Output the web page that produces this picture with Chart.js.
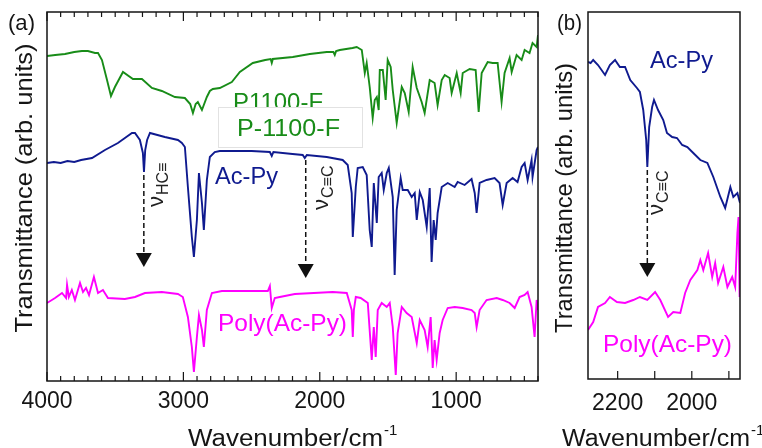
<!DOCTYPE html>
<html><head><meta charset="utf-8">
<script src="https://cdn.jsdelivr.net/npm/chart.js@4/dist/chart.umd.min.js"></script>
<style>
html,body{margin:0;padding:0;background:#fff;}
#wrap{position:relative;width:762px;height:448px;overflow:hidden;}
canvas{position:absolute;left:0;top:0;}
</style></head><body>
<div id="wrap"><canvas id="ca" width="762" height="448"></canvas><canvas id="cb" width="762" height="448"></canvas></div>
<script>
// ---- data: [wavenumber (cm^-1), transmittance (arb. units)] ----
const p1100F = [[4000,325],[3940,326],[3868,327],[3800,329],[3744,330],[3700,330],[3648,328],[3626,328],[3597,321],[3560,301],[3531,285],[3502,294],[3443,309],[3370,302],[3304,302],[3231,293],[3158,290],[3062,284],[2989,283],[2950,277],[2930,268],[2910,277],[2894,279],[2864,271],[2828,284],[2806,290],[2784,292],[2733,293],[2645,299],[2586,309],[2491,318],[2400,321],[2360,322],[2352,318],[2344,322],[2198,324],[2073,327],[1949,329],[1900,329],[1890,326],[1880,330],[1853,331],[1760,333],[1729,334],[1692,331],[1670,308],[1656,318],[1634,294],[1612,263],[1597,281],[1582,284],[1568,271],[1560,311],[1538,311],[1517,281],[1502,321],[1480,314],[1465,291],[1436,258],[1399,294],[1377,288],[1348,269],[1319,314],[1289,293],[1253,279],[1231,268],[1194,301],[1158,298],[1136,276],[1106,301],[1084,306],[1048,303],[1033,288],[996,308],[967,288],[952,308],[901,312],[857,311],[835,269],[813,308],[769,319],[733,318],[696,318],[667,279],[645,308],[608,323],[593,309],[557,326],[520,321],[498,331],[462,328],[440,338],[410,334],[400,346]];
const acPy = [[4000,218],[3950,219],[3900,218],[3850,220],[3800,219],[3750,221],[3670,223],[3575,231],[3480,238],[3377,248],[3355,248],[3319,241],[3297,228],[3289,209],[3280,231],[3266,241],[3245,248],[3136,244],[3040,241],[3011,238],[2989,234],[2967,194],[2938,144],[2923,124],[2901,161],[2886,208],[2864,178],[2850,151],[2828,201],[2806,224],[2770,229],[2733,230],[2500,230],[2366,229],[2352,225],[2340,229],[2200,227],[2125,226],[2110,223],[2095,226],[1949,224],[1832,221],[1795,216],[1766,188],[1758,144],[1736,194],[1722,213],[1685,214],[1656,206],[1634,151],[1619,134],[1604,198],[1582,158],[1568,204],[1546,208],[1531,191],[1509,208],[1494,213],[1465,184],[1451,106],[1436,171],[1407,203],[1392,191],[1355,191],[1326,184],[1304,188],[1289,161],[1267,189],[1245,181],[1216,154],[1194,193],[1180,119],[1165,161],[1150,141],[1136,168],[1106,194],[1062,198],[1011,194],[989,199],[938,196],[887,202],[864,188],[850,168],[828,198],[777,201],[718,203],[682,198],[659,176],[630,198],[586,203],[550,199],[520,214],[498,218],[476,201],[447,221],[440,204],[410,231],[400,234]];
const polyAcPy = [[4000,78],[3941,83],[3890,88],[3860,83],[3853,96],[3840,84],[3818,91],[3795,81],[3758,98],[3736,89],[3714,93],[3692,86],[3670,97],[3656,104],[3626,88],[3590,91],[3553,83],[3429,82],[3355,84],[3282,88],[3158,89],[3040,87],[3004,84],[2967,64],[2938,34],[2923,9],[2901,44],[2886,66],[2864,51],[2850,34],[2828,71],[2791,88],[2718,90],[2549,90],[2381,90],[2366,95],[2352,73],[2330,83],[2293,84],[2183,87],[1905,89],[1802,88],[1766,71],[1758,44],[1750,71],[1736,84],[1700,83],[1648,78],[1619,21],[1604,54],[1590,24],[1575,71],[1546,78],[1509,74],[1487,78],[1465,54],[1443,6],[1429,48],[1399,74],[1363,68],[1326,64],[1289,38],[1267,61],[1231,51],[1209,34],[1187,64],[1172,13],[1158,41],[1143,21],[1121,48],[1099,61],[1062,73],[1011,74],[952,73],[887,71],[864,68],[850,54],[828,71],[777,81],[703,83],[659,81],[608,78],[571,73],[535,84],[498,86],[476,89],[447,74],[425,44],[410,81],[400,71]];
const acPyZoom = [[2280,317],[2273,316],[2266,319],[2253,314],[2234,304],[2221,314],[2207,319],[2194,312],[2180,312],[2166,299],[2148,291],[2140,287],[2131,269],[2123,239],[2120,212],[2115,252],[2107,272],[2102,279],[2091,269],[2077,259],[2067,246],[2053,242],[2040,241],[2026,234],[2012,232],[1996,226],[1977,219],[1958,216],[1942,202],[1923,182],[1910,171],[1896,192],[1888,182],[1877,186],[1870,176]];
const polyAcPyZoom = [[2280,49],[2266,57],[2253,72],[2234,76],[2221,82],[2202,77],[2180,76],[2158,79],[2140,82],[2120,79],[2099,87],[2085,79],[2064,62],[2050,67],[2031,66],[2018,86],[2004,99],[1985,109],[1977,119],[1969,109],[1956,126],[1945,102],[1937,116],[1929,96],[1915,112],[1904,92],[1891,102],[1883,92],[1877,146],[1874,162],[1871,82]];
// ---- ticks ----
const xTicksA = [4000,3900,3800,3700,3600,3500,3400,3300,3200,3100,3000,2900,2800,2700,2600,2500,2400,2300,2200,2100,2000,1900,1800,1700,1600,1500,1400,1300,1200,1100,1000,900,800,700,600,500,400];
const xLabelValuesA = [4000,3000,2000,1000];
const xTicksB = [2200,2100,2000,1900];
const xLabelValuesB = [2200,2000];
const xLabelsB = ['2200','2000'];

const GREEN='#188c18', BLUE='#0f1a8f', MAG='#ff00ff', INK='#151515';
const FONT='"Liberation Sans", Arial, sans-serif';

function txt(ctx, s, x, y, size, color, w, opt) {
  opt = opt || {};
  ctx.save();
  ctx.font = size + 'px ' + FONT;
  ctx.fillStyle = color;
  ctx.textBaseline = opt.baseline || 'alphabetic';
  ctx.textAlign = opt.align || 'left';
  const m = ctx.measureText(s).width;
  ctx.translate(x, y);
  if (opt.rot) ctx.rotate(opt.rot);
  if (w) ctx.scale(w / m, 1);
  ctx.fillText(s, 0, 0);
  ctx.restore();
}
function nuLabel(ctx, x, y, sub) {
  ctx.save();
  ctx.translate(x, y);
  ctx.rotate(-Math.PI / 2);
  ctx.fillStyle = '#222';
  ctx.textBaseline = 'alphabetic';
  ctx.font = '22px ' + FONT;
  ctx.fillText('\u03BD', 0, 0);
  const w = ctx.measureText('\u03BD').width;
  ctx.font = '16px ' + FONT;
  ctx.fillText(sub, w + 1, 5);
  ctx.restore();
}
function arrow(ctx, xs, ys, wn, v0, v1) {
  const x = xs.getPixelForValue(wn), y0 = ys.getPixelForValue(v0), y1 = ys.getPixelForValue(v1);
  ctx.save();
  ctx.strokeStyle = '#111'; ctx.fillStyle = '#111'; ctx.lineWidth = 1.5;
  ctx.setLineDash([5, 3]);
  ctx.beginPath(); ctx.moveTo(x, y0); ctx.lineTo(x, y1 - 14); ctx.stroke();
  ctx.setLineDash([]);
  ctx.beginPath(); ctx.moveTo(x - 8, y1 - 14); ctx.lineTo(x + 8, y1 - 14); ctx.lineTo(x, y1); ctx.closePath(); ctx.fill();
  ctx.restore();
}
function frameAndTicks(ctx, a, xs, ticks, majors, top, lenMaj, lenMin) {
  ctx.save();
  ctx.strokeStyle = INK; ctx.lineWidth = 1.5;
  ctx.strokeRect(a.left, a.top, a.right - a.left, a.bottom - a.top);
  ctx.lineWidth = 1.2;
  ctx.beginPath();
  for (const v of ticks) {
    const px = xs.getPixelForValue(v);
    const L = majors.includes(v) ? lenMaj : lenMin;
    ctx.moveTo(px, a.bottom); ctx.lineTo(px, a.bottom - L);
    if (top) { ctx.moveTo(px, a.top); ctx.lineTo(px, a.top + L); }
  }
  ctx.stroke();
  ctx.restore();
}
const toXY = arr => arr.map(p => ({x: p[0], y: p[1]}));
const ds = (arr, color) => ({data: toXY(arr), borderColor: color, borderWidth: 1.9, pointRadius: 0, fill: false, tension: 0});

const decorA = {
  id: 'decorA',
  afterDraw(chart) {
    const {ctx, chartArea: a, scales: {x, y}} = chart;
    frameAndTicks(ctx, a, x, xTicksA, xLabelValuesA, true, 9, 5);
    txt(ctx, '(a)', 8, 30, 22, INK, 27);
    txt(ctx, 'Transmittance (arb. units)', 25, 188, 24, INK, 289, {rot: -Math.PI / 2, align: 'center', baseline: 'middle'});
    txt(ctx, 'Wavenumber/cm', 188, 446, 23, INK, 195);
    txt(ctx, '-1', 384, 435, 15, INK);
    txt(ctx, 'P1100-F', 233, 110, 24, GREEN, 90);
    ctx.save(); ctx.fillStyle = '#fff'; ctx.fillRect(218, 107, 144, 40);
    ctx.strokeStyle = '#e2e2e2'; ctx.lineWidth = 1; ctx.strokeRect(218.5, 107.5, 144, 40); ctx.restore();
    txt(ctx, 'P-1100-F', 237, 136, 24, GREEN, 103);
    txt(ctx, 'Ac-Py', 215, 184, 24, BLUE, 63);
    txt(ctx, 'Poly(Ac-Py)', 218, 331, 24, MAG, 129);
    nuLabel(ctx, x.getPixelForValue(3150), y.getPixelForValue(174), 'HC\u2261');
    nuLabel(ctx, x.getPixelForValue(1941), y.getPixelForValue(171), 'C\u2261C');
    arrow(ctx, x, y, 3290, 206, 114);
    arrow(ctx, x, y, 2103, 221, 103);
  }
};
const decorB = {
  id: 'decorB',
  afterDraw(chart) {
    const {ctx, chartArea: a, scales: {x, y}} = chart;
    frameAndTicks(ctx, a, x, xTicksB, xLabelValuesB, false, 8, 8);
    xLabelValuesB.forEach((v, i) => txt(ctx, xLabelsB[i], x.getPixelForValue(v), 404, 23, INK, 0, {align: 'center', baseline: 'middle'}));
    txt(ctx, '(b)', 557, 30, 22, INK, 25);
    txt(ctx, 'Transmittance (arb. units)', 565, 198, 24, INK, 270, {rot: -Math.PI / 2, align: 'center', baseline: 'middle'});
    txt(ctx, 'Wavenumber/cm', 562, 446, 23, INK, 188);
    txt(ctx, '-1', 751, 435, 15, INK);
    txt(ctx, 'Ac-Py', 650, 68, 24, BLUE, 63);
    txt(ctx, 'Poly(Ac-Py)', 603, 352, 24, MAG, 129);
    nuLabel(ctx, x.getPixelForValue(2077), y.getPixelForValue(164), 'C\u2261C');
    arrow(ctx, x, y, 2120, 209, 102);
  }
};

new Chart(document.getElementById('ca'), {
  type: 'line',
  data: {datasets: [ds(p1100F, GREEN), ds(acPy, BLUE), ds(polyAcPy, MAG)]},
  options: {
    responsive: false, animation: false, events: [],
    layout: {padding: {left: 47, right: 224, top: 12, bottom: 0}},
    plugins: {legend: {display: false}, tooltip: {enabled: false}},
    scales: {
      x: {type: 'linear', min: 400, max: 4000, reverse: true,
        afterFit: s => { s.height = 67; },
        afterBuildTicks: s => { s.ticks = xTicksA.map(v => ({value: v})); },
        grid: {display: false, drawTicks: false}, border: {display: false},
        ticks: {autoSkip: false, maxRotation: 0, minRotation: 0, padding: 7, color: INK,
          font: {family: FONT, size: 23},
          callback: v => xLabelValuesA.includes(v) ? String(v) : ''}},
      y: {display: false, min: 0, max: 369}
    }
  },
  plugins: [decorA]
});
new Chart(document.getElementById('cb'), {
  type: 'line',
  data: {datasets: [ds(acPyZoom, BLUE), ds(polyAcPyZoom, MAG)]},
  options: {
    responsive: false, animation: false, events: [],
    layout: {padding: {left: 588, right: 22, top: 12, bottom: 0}},
    plugins: {legend: {display: false}, tooltip: {enabled: false}},
    scales: {
      x: {type: 'linear', min: 1870, max: 2280, reverse: true,
        afterFit: s => { s.height = 69; },
        afterBuildTicks: s => { s.ticks = xTicksB.map(v => ({value: v})); },
        grid: {display: false, drawTicks: false}, border: {display: false},
        ticks: {display: false, autoSkip: false, maxRotation: 0}},
      y: {display: false, min: 0, max: 367}
    }
  },
  plugins: [decorB]
});
</script>
</body></html>
